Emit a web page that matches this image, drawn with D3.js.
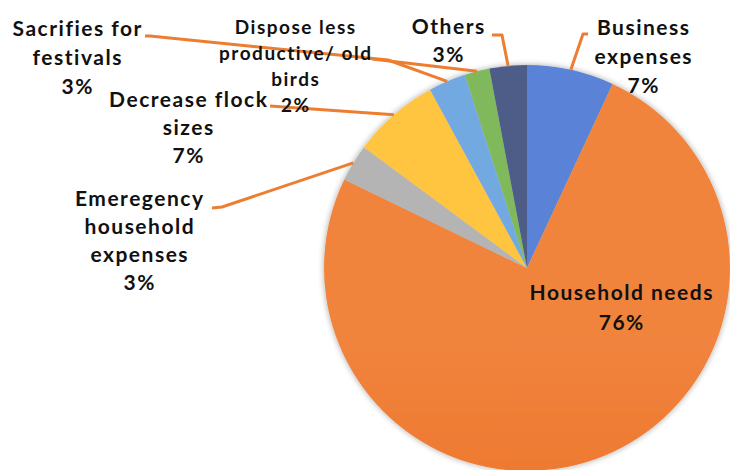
<!DOCTYPE html>
<html><head><meta charset="utf-8">
<script src="https://cdn.jsdelivr.net/npm/d3@7"></script>
<style>html,body{margin:0;padding:0;background:#fff}svg{display:block}</style>
</head><body>
<script>
// ---- data ----
const categories = ["Business expenses","Household needs","Emeregency household expenses","Decrease flock sizes","Sacrifies for festivals","Dispose less productive/ old birds","Others"];
const values = [7, 76, 3, 7, 3, 2, 3];
const labelLines = [
  ["Business","expenses"],
  ["Household needs"],
  ["Emeregency","household","expenses"],
  ["Decrease flock","sizes"],
  ["Sacrifies for","festivals"],
  ["Dispose less","productive/ old","birds"],
  ["Others"]
];
const colorsTop = ["#5a82d6","#f1843e","#b4b4b4","#ffc53f","#72a9e0","#80b95c","#4d5d88"];
const colorsBottom = ["#2e5ec4","#e86618","#9c9c9c","#f2b500","#3d8ce0","#5aa536","#1c3a7a"];

// ---- layout (positions/styles) ----
const W = 730, H = 470, cx = 527, cy = 268, R = 203;
const lineColor = "#ed7d31";
const font = "'Lato', 'Open Sans', sans-serif";
const LS = 1.5;
const labelLayout = [
  {x:643, y:35, fs:21, dy:29, leader:[[588,34],[583,34]]},
  {x:621, y:300, fs:21, dy:30, leader:null},
  {x:139, y:206, fs:21, dy:28, leader:[[212,208],[222,207]]},
  {x:188, y:107, fs:21, dy:28, leader:[[270,106]]},
  {x:77,  y:36,  fs:21, dy:29, leader:[[145,36],[150,36],[388,60]]},
  {x:295, y:34,  fs:19, dy:26, leader:[[372,59]]},
  {x:448, y:34,  fs:21, dy:28, leader:[[492,35],[502,35]]}
];

const svg = d3.select("body").append("svg").attr("width", W).attr("height", H);
const defs = svg.append("defs");
const f = defs.append("filter").attr("id","sh").attr("x","-10%").attr("y","-10%").attr("width","120%").attr("height","120%");
f.append("feGaussianBlur").attr("in","SourceAlpha").attr("stdDeviation",3).attr("result","b");
f.append("feComponentTransfer").attr("in","b").attr("result","o2").append("feFuncA").attr("type","linear").attr("slope",0.35);
const fm = f.append("feMerge"); fm.append("feMergeNode").attr("in","o2"); fm.append("feMergeNode").attr("in","SourceGraphic");

colorsTop.forEach((c,i)=>{
  const g = defs.append("linearGradient").attr("id","g"+i).attr("gradientUnits","userSpaceOnUse")
    .attr("x1",0).attr("y1",cy-R).attr("x2",0).attr("y2",cy+R);
  g.append("stop").attr("offset","0%").attr("stop-color",c);
  g.append("stop").attr("offset","100%").attr("stop-color",colorsBottom[i]);
});

const pie = d3.pie().sort(null).value(d=>d)(values);
const arc = d3.arc().innerRadius(0).outerRadius(R);
const gp = svg.append("g").attr("transform",`translate(${cx},${cy})`).attr("filter","url(#sh)");
gp.selectAll("path").data(pie).join("path").attr("d",arc).attr("fill",(d,i)=>`url(#g${i})`);

// leaders
pie.forEach((d,i)=>{
  const L = labelLayout[i];
  if(!L.leader) return;
  const a = (d.startAngle + d.endAngle)/2;
  const end = [cx + R*Math.sin(a), cy - R*Math.cos(a)];
  const pts = L.leader.concat([end]);
  svg.append("path").attr("d", d3.line()(pts)).attr("fill","none")
    .attr("stroke",lineColor).attr("stroke-width",3).attr("stroke-linejoin","round");
});

// labels
pie.forEach((d,i)=>{
  const L = labelLayout[i];
  const lines = labelLines[i].concat([Math.round(values[i]) + "%"]);
  const t = svg.append("text").attr("text-anchor","middle").attr("font-family",font)
    .attr("font-weight","bold").attr("font-size",L.fs).attr("letter-spacing",LS).attr("fill","#111");
  lines.forEach((s,k)=>{
    t.append("tspan").attr("x",L.x + LS/2).attr("y",L.y + k*L.dy).text(s);
  });
});
</script>
</body></html>
